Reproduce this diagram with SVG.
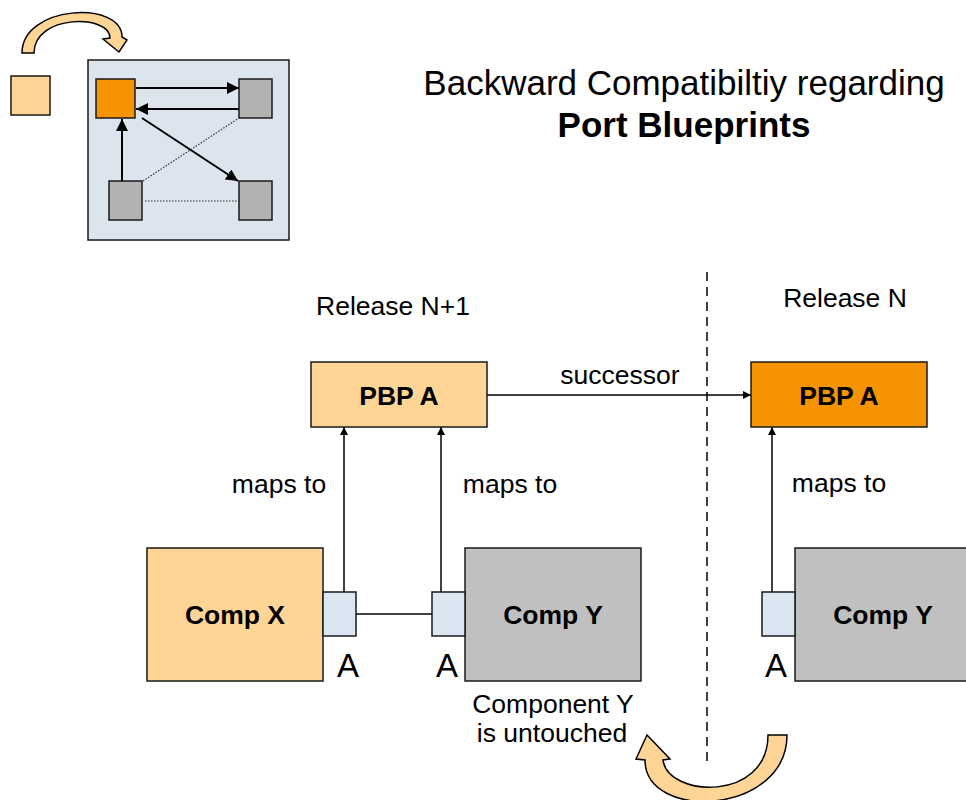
<svg xmlns="http://www.w3.org/2000/svg" width="966" height="800" viewBox="0 0 966 800">
<defs>
<marker id="ah" viewBox="0 0 10 10" refX="10" refY="5" markerWidth="8" markerHeight="8" markerUnits="userSpaceOnUse" orient="auto">
<path d="M0,0 L10,5 L0,10 Z" fill="#000"/>
</marker>
<marker id="ahs" viewBox="0 0 10 10" refX="10" refY="5" markerWidth="12" markerHeight="12" markerUnits="userSpaceOnUse" orient="auto">
<path d="M0,0 L10,5 L0,10 Z" fill="#000"/>
</marker>
<style>
text{font-family:"Liberation Sans",Arial,sans-serif;fill:#000}
.t{font-size:26.5px}
.b{font-size:26.5px;font-weight:bold}
.lbl{font-size:33px}
.box{stroke:#1a1a1a;stroke-width:1.5}
.lo{fill:#FFD596}
.or{fill:#F59300}
.gr{fill:#C0C0C0}
.ic{fill:#B2B2B2}
.pt{fill:#DCE6F2}
.c{stroke:#000;stroke-width:1.5;fill:none}
.ci{stroke:#000;stroke-width:2;fill:none}
.d{stroke:#333;stroke-width:1.2;stroke-dasharray:1.5 1.5;fill:none}
.arc{fill:#FFD596;stroke:#000;stroke-width:1.5;stroke-linejoin:miter}
</style>
</defs>

<g id="icon">
<path class="arc" d="M22,53 C22,5 122,0 122,37 L127,40 L119,52 L103,39 L110,38 C110,14 34,14 34,53 Z"/>
<rect class="box lo" x="11" y="76" width="39" height="39"/>
<rect class="box" x="88" y="60" width="201" height="180" fill="#DCE4EE"/>
<rect class="box or" x="96" y="79" width="39" height="39"/>
<rect class="box ic" x="239" y="79" width="33" height="39"/>
<rect class="box ic" x="109" y="181" width="33" height="39"/>
<rect class="box ic" x="239" y="181" width="33" height="39"/>
<line class="ci" x1="136" y1="88" x2="239" y2="88" marker-end="url(#ahs)"/>
<line class="ci" x1="239" y1="109" x2="136" y2="109" marker-end="url(#ahs)"/>
<line class="ci" x1="122" y1="181" x2="122" y2="119" marker-end="url(#ahs)"/>
<line class="ci" x1="142" y1="118" x2="238" y2="181" marker-end="url(#ahs)"/>
<line class="d" x1="143" y1="181" x2="239" y2="118"/>
<line class="d" x1="145" y1="201" x2="239" y2="201"/>
</g>

<g id="title">
<text x="684" y="95" text-anchor="middle" style="font-size:35px">Backward Compatibiltiy regarding</text>
<text x="684" y="137" text-anchor="middle" style="font-size:35px;font-weight:bold">Port Blueprints</text>
</g>

<g id="labels">
<text class="t" x="393" y="315" text-anchor="middle">Release N+1</text>
<text class="t" x="845" y="307" text-anchor="middle">Release N</text>
</g>

<g id="connectors">
<line x1="707" y1="272" x2="707" y2="765" stroke="#000" stroke-width="1.5" stroke-dasharray="9 6"/>
<line class="c" x1="487" y1="395" x2="751" y2="395" marker-end="url(#ah)"/>
<text class="t" x="620" y="384" text-anchor="middle">successor</text>
<line class="c" x1="344" y1="592" x2="344" y2="427" marker-end="url(#ah)"/>
<line class="c" x1="441" y1="592" x2="441" y2="427" marker-end="url(#ah)"/>
<line class="c" x1="772" y1="592" x2="772" y2="427" marker-end="url(#ah)"/>
<line class="c" x1="356" y1="614" x2="432" y2="614"/>
<text class="t" x="279" y="493" text-anchor="middle">maps to</text>
<text class="t" x="510" y="493" text-anchor="middle">maps to</text>
<text class="t" x="839" y="492" text-anchor="middle">maps to</text>
</g>

<g id="pbp-a-new">
<rect class="box lo" x="311" y="362" width="176" height="65"/>
<text class="b" x="399" y="405" text-anchor="middle">PBP A</text>
</g>
<g id="pbp-a-old">
<rect class="box or" x="751" y="362" width="176" height="65"/>
<text class="b" x="839" y="405" text-anchor="middle">PBP A</text>
</g>

<g id="comp-x">
<rect class="box lo" x="147" y="548" width="176" height="133"/>
<text class="b" x="235" y="624" text-anchor="middle">Comp X</text>
</g>
<g id="port-x">
<rect class="box pt" x="323" y="592" width="33" height="44"/>
<text class="lbl" x="348" y="677" text-anchor="middle">A</text>
</g>

<g id="comp-y">
<rect class="box gr" x="465" y="548" width="176" height="133"/>
<text class="b" x="553" y="624" text-anchor="middle">Comp Y</text>
</g>
<g id="port-y">
<rect class="box pt" x="432" y="592" width="33" height="44"/>
<text class="lbl" x="447" y="677" text-anchor="middle">A</text>
</g>

<g id="comp-y-old">
<rect class="box gr" x="795" y="548" width="176" height="133"/>
<text class="b" x="883" y="624" text-anchor="middle">Comp Y</text>
</g>
<g id="port-y-old">
<rect class="box pt" x="762" y="592" width="33" height="44"/>
<text class="lbl" x="776" y="677" text-anchor="middle">A</text>
</g>

<g id="note">
<text class="t" x="553" y="713" text-anchor="middle">Component Y</text>
<text class="t" x="552" y="742" text-anchor="middle">is untouched</text>
</g>

<g id="undo-arrow">
<path class="arc" d="M787,735 C787,815 645,822 645,760 L636,759 L647,735 L670,759 L663,760 C668,798 768,802 768,735 Z"/>
</g>
</svg>
